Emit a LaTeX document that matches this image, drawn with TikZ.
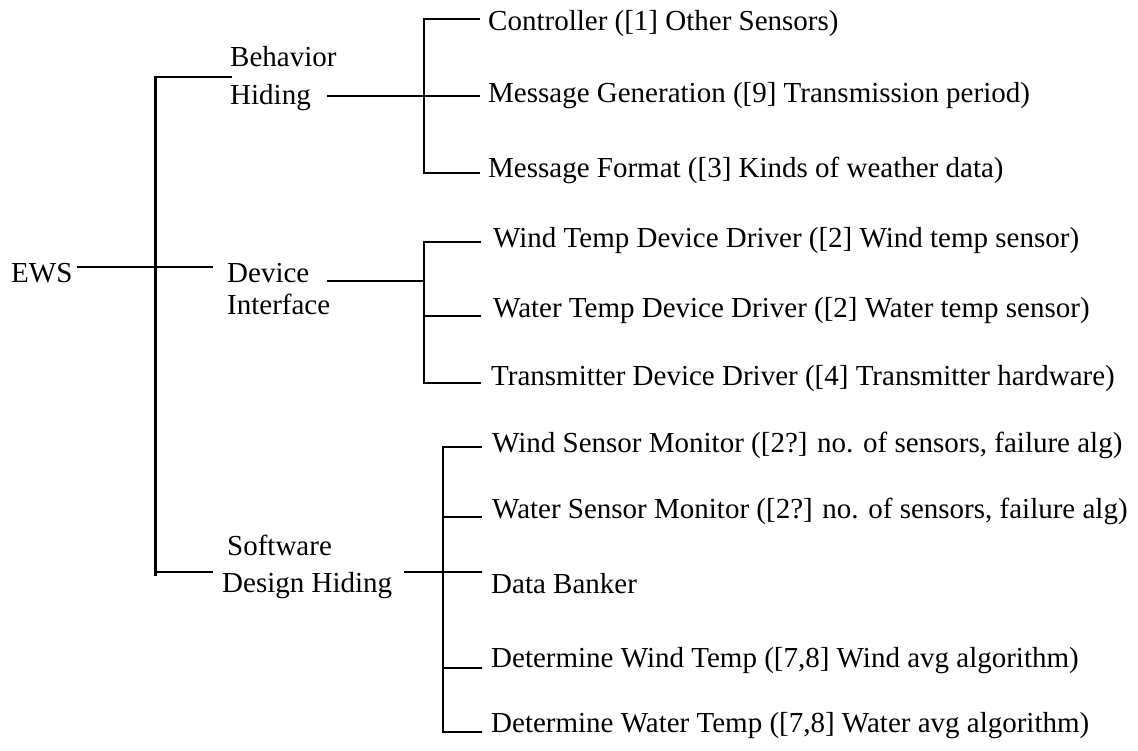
\documentclass[tikz,border=0pt]{standalone}
\usepackage{fontspec}
\setmainfont{Liberation Serif}
\begin{document}
\begin{tikzpicture}[x=1pt,y=-1pt,
  lbl/.style={inner sep=0pt,anchor=base west,font=\fontsize{29}{34}\selectfont},
  conn/.style={line width=2.8pt,line cap=rect}]
\useasboundingbox (0,0) rectangle (1138,751);
% left labels
\node[lbl] (ews) at (11,283) {EWS};
\node[lbl] (bh1) at (230,67) {Behavior};
\node[lbl] (bh2) at (230,105) {Hiding};
\node[lbl] (di1) at (227,283) {Device};
\node[lbl] (di2) at (227,315) {Interface};
\node[lbl] (sd1) at (227,555) {Software};
\node[lbl] (sd2) at (222,592) {Design Hiding};
% right labels
\node[lbl] (c1) at (488,31) {Controller ([1] Other Sensors)};
\node[lbl] (c2) at (488,103) {Message Generation ([9] Transmission period)};
\node[lbl] (c3) at (488,178) {Message Format ([3] Kinds of weather data)};
\node[lbl] (d1) at (493,248) {Wind Temp Device Driver ([2] Wind temp sensor)};
\node[lbl] (d2) at (493,318) {Water Temp Device Driver ([2] Water temp sensor)};
\node[lbl] (d3) at (491,385) {Transmitter Device Driver ([4] Transmitter hardware)};
\node[lbl] (s1) at (492,452) {Wind Sensor Monitor ([2?] no. of sensors, failure alg)};
\node[lbl] (s2) at (492,518) {Water Sensor Monitor ([2?] no. of sensors, failure alg)};
\node[lbl] (s3) at (491,593) {Data Banker};
\node[lbl] (s4) at (491,667) {Determine Wind Temp ([7,8] Wind avg algorithm)};
\node[lbl] (s5) at (491,732) {Determine Water Temp ([7,8] Water avg algorithm)};
% junction coordinates
\coordinate (ewsR) at (78,267);
\coordinate (mT) at (155.5,77);
\coordinate (mM) at (155.5,267);
\coordinate (mB) at (155.5,575);
\coordinate (bhL) at (231,77);
\coordinate (diL) at (212,267);
\coordinate (sdS) at (155.5,572);
\coordinate (sdL) at (212,572);
% EWS level
\draw[conn] (ewsR) -- (mM) -- (diL);
\draw[conn] (bhL) -- (mT) -- (mB);
\draw[conn] (sdS) -- (sdL);
% Behavior Hiding group
\coordinate (bhR) at (328,96);
\coordinate (bT) at (424,19);
\coordinate (bM) at (424,96);
\coordinate (bB) at (424,173);
\coordinate (c1L) at (479,19);
\coordinate (c2L) at (479,96);
\coordinate (c3L) at (479,173);
\draw[conn] (bhR) -- (bM) -- (c2L);
\draw[conn] (c1L) -- (bT) -- (bB) -- (c3L);
% Device Interface group
\coordinate (diR) at (328,281);
\coordinate (dT) at (424,242);
\coordinate (dM) at (424,281);
\coordinate (dN) at (424,316);
\coordinate (dB) at (424,383);
\coordinate (d1L) at (480,242);
\coordinate (d2L) at (480,316);
\coordinate (d3L) at (480,383);
\draw[conn] (diR) -- (dM);
\draw[conn] (d1L) -- (dT) -- (dB) -- (d3L);
\draw[conn] (dN) -- (d2L);
% Software Design Hiding group
\coordinate (sdR) at (405,572);
\coordinate (sT) at (443,447);
\coordinate (sA) at (443,517);
\coordinate (sM) at (443,572);
\coordinate (sC) at (443,668);
\coordinate (sB) at (443,732);
\coordinate (s1L) at (481,447);
\coordinate (s2L) at (481,517);
\coordinate (s3L) at (481,572);
\coordinate (s4L) at (481,668);
\coordinate (s5L) at (481,732);
\draw[conn] (sdR) -- (sM) -- (s3L);
\draw[conn] (s1L) -- (sT) -- (sB) -- (s5L);
\draw[conn] (sA) -- (s2L);
\draw[conn] (sC) -- (s4L);
\end{tikzpicture}
\end{document}
